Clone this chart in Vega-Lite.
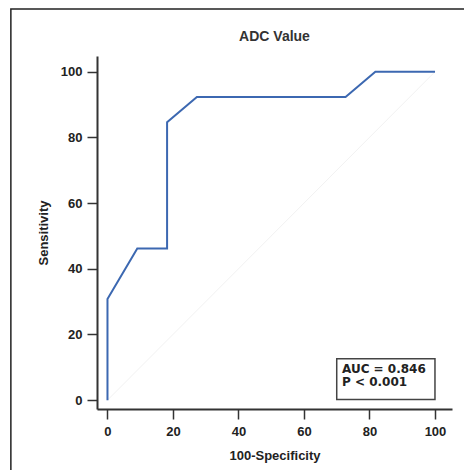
{
  "$schema": "https://vega.github.io/schema/vega-lite/v6.json",
  "width": 355,
  "height": 353,
  "autosize": "none",
  "padding": {"left": 97, "top": 56, "right": 12, "bottom": 61},
  "background": "#ffffff",
  "config": {
    "view": {"stroke": null},
    "font": "Liberation Sans"
  },
  "title": {
    "text": "ADC Value",
    "fontSize": 14,
    "fontWeight": "bold",
    "color": "#333333",
    "offset": -36,
    "font": "Liberation Sans"
  },
  "datasets": {
    "roc": [
      {"fpr": 0, "sens": 0},
      {"fpr": 0, "sens": 30.8},
      {"fpr": 9.1, "sens": 46.2},
      {"fpr": 18.2, "sens": 46.2},
      {"fpr": 18.2, "sens": 84.6},
      {"fpr": 27.3, "sens": 92.3},
      {"fpr": 72.7, "sens": 92.3},
      {"fpr": 81.8, "sens": 100},
      {"fpr": 100, "sens": 100}
    ],
    "diag": [
      {"fpr": 0, "sens": 0},
      {"fpr": 100, "sens": 100}
    ]
  },
  "layer": [
    {
      "data": {"name": "diag"},
      "mark": {"type": "line", "color": "#f2f2f2", "strokeWidth": 1},
      "encoding": {
        "x": {
          "field": "fpr", "type": "quantitative",
          "scale": {"domain": [-3.2, 105.2], "nice": false, "zero": false},
          "axis": {
            "title": "100-Specificity",
            "values": [0,5,10,15,20,25,30,35,40,45,50,55,60,65,70,75,80,85,90,95,100],
            "labelExpr": "datum.value % 20 === 0 ? datum.label : ''",
            "tickSize": {"condition": {"test": "datum.value % 20 === 0", "value": 10}, "value": 4},
            "tickColor": "#333333",
            "tickWidth": 1.5,
            "domainColor": "#333333",
            "domainWidth": 2,
            "labelFontSize": 13,
            "labelFontWeight": "bold",
            "labelColor": "#222222",
            "labelPadding": 6,
            "labelFont": "Liberation Sans",
            "titleFont": "Liberation Sans",
            "titleFontSize": 13,
            "titleFontWeight": "bold",
            "titleColor": "#222222",
            "titlePadding": 11,
            "grid": false
          }
        },
        "y": {
          "field": "sens", "type": "quantitative",
          "scale": {"domain": [-2.7, 104.8], "nice": false, "zero": false},
          "axis": {
            "title": "Sensitivity",
            "values": [0,5,10,15,20,25,30,35,40,45,50,55,60,65,70,75,80,85,90,95,100],
            "labelExpr": "datum.value % 20 === 0 ? datum.label : ''",
            "tickSize": {"condition": {"test": "datum.value % 20 === 0", "value": 10}, "value": 4},
            "tickColor": "#333333",
            "tickWidth": 1.5,
            "domainColor": "#333333",
            "domainWidth": 2,
            "labelFontSize": 13,
            "labelFontWeight": "bold",
            "labelColor": "#222222",
            "labelPadding": 5,
            "labelFont": "Liberation Sans",
            "titleFont": "Liberation Sans",
            "titleFontSize": 13,
            "titleFontWeight": "bold",
            "titleColor": "#222222",
            "titlePadding": 10,
            "grid": false
          }
        }
      }
    },
    {
      "data": {"name": "roc"},
      "mark": {"type": "line", "color": "#3c68b1", "strokeWidth": 2},
      "encoding": {
        "x": {"field": "fpr", "type": "quantitative"},
        "y": {"field": "sens", "type": "quantitative"},
        "order": {"value": 0}
      }
    },
    {
      "data": {"values": [{}]},
      "mark": {"type": "rect", "fill": "#ffffff", "stroke": "#444444", "strokeWidth": 1.5},
      "encoding": {
        "x": {"datum": 70},
        "x2": {"datum": 100},
        "y": {"datum": 12.6},
        "y2": {"datum": 0.2}
      }
    },
    {
      "data": {"values": [{}]},
      "mark": {
        "type": "text",
        "text": ["AUC = 0.846", "P < 0.001"],
        "align": "left",
        "baseline": "alphabetic",
        "fontSize": 12,
        "fontWeight": "bold",
        "lineHeight": 12.5,
        "color": "#222222",
        "font": "DejaVu Sans"
      },
      "encoding": {
        "x": {"datum": 71.6},
        "y": {"datum": 8.2}
      }
    },
    {
      "data": {"values": [{}]},
      "mark": {"type": "rect", "fillOpacity": 0, "stroke": "#222222", "strokeWidth": 1.5},
      "encoding": {
        "x": {"datum": -29.5},
        "x2": {"datum": 140},
        "y": {"datum": 119.1},
        "y2": {"datum": -40}
      }
    }
  ]
}
